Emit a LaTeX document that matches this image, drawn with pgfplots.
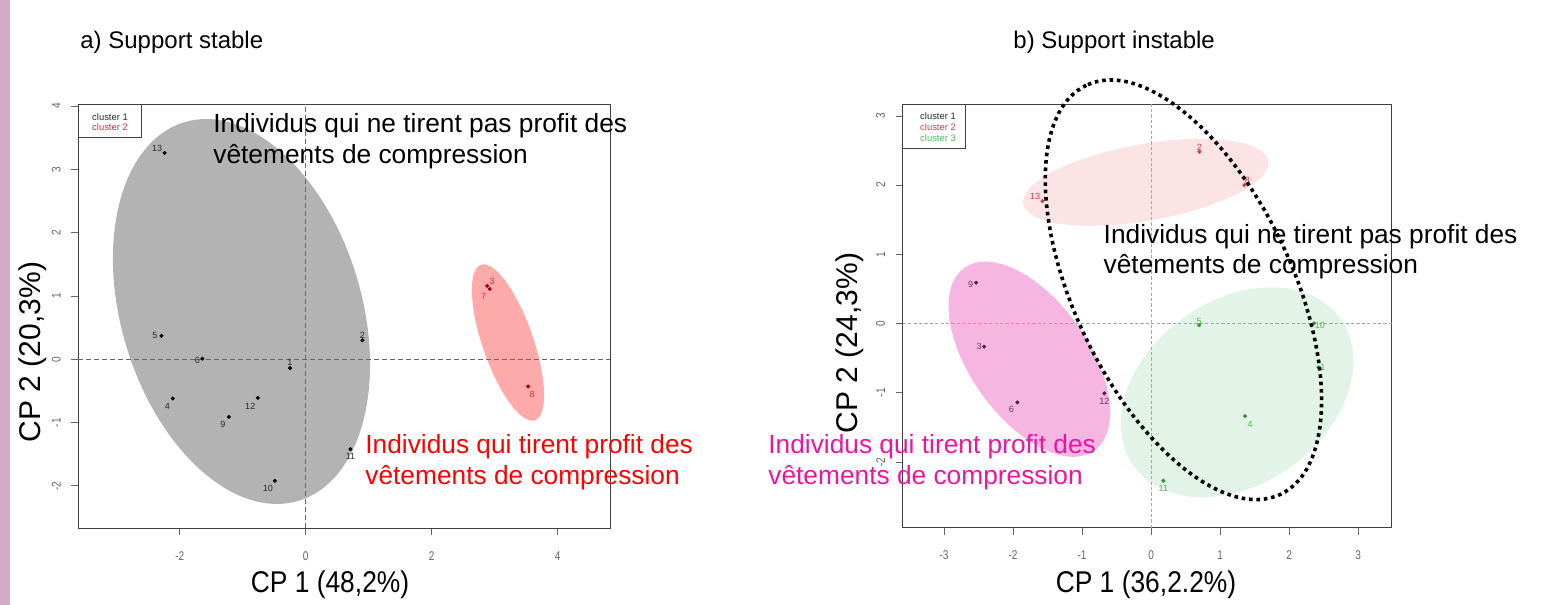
\documentclass[border=0pt]{standalone}
\usepackage{fontspec}
\setmainfont{Liberation Sans}
\usepackage{pgfplots}
\pgfplotsset{compat=1.18}
\usepackage{pgfplotstable}
\definecolor{stripc}{RGB}{212,170,200}
\definecolor{grayell}{RGB}{179,179,179}
\definecolor{redell}{RGB}{255,170,170}
\definecolor{pinkell}{RGB}{247,182,226}
\definecolor{lredell}{RGB}{252,228,228}
\definecolor{greenell}{RGB}{226,244,232}
\definecolor{magtext}{RGB}{238,20,160}
\definecolor{ticklab}{RGB}{100,100,100}
\definecolor{cA}{RGB}{40,40,40}
\definecolor{cB}{RGB}{208,50,60}
\definecolor{cBd}{RGB}{170,0,0}
\definecolor{rA}{RGB}{110,50,95}
\definecolor{rB}{RGB}{205,60,85}
\definecolor{rC}{RGB}{80,185,80}
\definecolor{rCd}{RGB}{50,150,50}
\newcommand\ptfont{\fontsize{4.5}{5}\selectfont}
\newcommand\ticfont{\fontsize{6.3}{7}\selectfont}
\newcommand\annfont{\fontsize{13.15}{15.5}\selectfont}
\newcommand\legfont{\fontsize{4.7}{5}\selectfont}

% left panel: cluster 1
\pgfplotstableread{
x y lab dx dy
-2.24 3.26 13 -3.7 2.2
-2.29 0.37 5 -3.3 0
-1.64 0.01 6 -2.5 -0.8
-0.25 -0.14 1 0 2.8
0.90 0.30 2 0 2.5
-2.11 -0.62 4 -2.7 -3.9
-0.76 -0.61 12 -3.8 -4
-1.22 -0.91 9 -3 -3.7
0.71 -1.42 11 0 -3.7
-0.49 -1.92 10 -3.5 -3.8
}\leftA
% left panel: cluster 2
\pgfplotstableread{
x y lab dx dy
2.88 1.16 3 2.5 2
2.92 1.11 7 -3 -3.7
3.53 -0.43 8 2 -3.8
}\leftB
% right panel: cluster 1
\pgfplotstableread{
x y lab dx dy
-2.536 0.590 9 -2.7 -0.7
-2.420 -0.335 3 -2.5 0
-1.938 -1.139 6 -3 -3.5
-0.677 -1.009 12 0 -4
}\rightA
% right panel: cluster 2
\pgfplotstableread{
x y lab dx dy
-1.575 1.770 13 -3.65 2.2
0.700 2.483 2 0 2.2
1.352 2.001 8 1.5 2.5
}\rightB
% right panel: cluster 3
\pgfplotstableread{
x y lab dx dy
0.696 -0.022 5 0 2
2.362 0.003 10 2.9 -0.8
2.425 -0.633 1 2.2 0
1.362 -1.337 4 2.5 -4
0.178 -2.272 11 0 -3.8
}\rightC

\pgfplotsset{
  rstyle/.style={
    anchor=south west, clip=false,
    tick pos=left, tick align=outside, major tick length=3.5pt,
    tick style={ticklab, line width=0.4pt},
    axis line style={draw=black!75, line width=0.5pt},
    /pgf/number format/assume math mode=true,
    xticklabel style={font=\ticfont, text=ticklab, xscale=0.8, yshift=-4.5pt},
    yticklabel style={font=\ticfont, text=ticklab, rotate=90, anchor=south, xscale=0.8, yshift=1.8pt},
  },
  ptlab/.style={only marks, mark=*, mark size=0.8pt,
    point meta=explicit symbolic, nodes near coords,
    visualization depends on={\thisrow{dx}\as\dx},
    visualization depends on={\thisrow{dy}\as\dy},
    nodes near coords style={anchor=center, inner sep=0pt, font=\ptfont,
      xshift=\dx pt, yshift=\dy pt},
  },
}

\begin{document}
\begin{tikzpicture}
\useasboundingbox (0,0) rectangle (772pt,302.5pt);
\fill[stripc] (0,0) rectangle (5pt,302.5pt);

% ---------------- left panel ----------------
\begin{axis}[rstyle, at={(39.15pt,38.35pt)},
  x=31.5pt, y=31.65pt, xmin=-3.61, xmax=4.83, ymin=-2.67, ymax=4.03,
  xtick={-2,0,2,4}, ytick={-2,-1,0,1,2,3,4}]
  \fill[grayell, rotate around={106.8:(axis cs:-1.02,0.755)}] (axis cs:-1.02,0.755) ellipse [x radius=98.85pt, y radius=60.15pt];
  \fill[redell, rotate around={109.1:(axis cs:3.21,0.265)}] (axis cs:3.21,0.265) ellipse [x radius=41.15pt, y radius=12.7pt];
  \draw[black!60, dash pattern=on 2.5pt off 1.5pt, line width=0.5pt] (axis cs:0,-2.67) -- (axis cs:0,4.03);
  \draw[black!60, dash pattern=on 2.5pt off 1.5pt, line width=0.5pt] (axis cs:-3.61,0) -- (axis cs:4.83,0);
  \addplot[ptlab, black, nodes near coords style={text=cA}] table[meta=lab] {\leftA};
  \addplot[ptlab, cBd, nodes near coords style={text=cB}] table[meta=lab] {\leftB};
\end{axis}

% ---------------- right panel ----------------
\begin{axis}[rstyle, at={(451.35pt,38.5pt)},
  x=34.5pt, y=34.6pt, xmin=-3.6, xmax=3.49, ymin=-2.955, ymax=3.17,
  xtick={-3,-2,-1,0,1,2,3}, ytick={-2,-1,0,1,2,3}]
  \fill[pinkell, rotate around={125.4:(axis cs:-1.765,-0.516)}] (axis cs:-1.765,-0.516) ellipse [x radius=56.05pt, y radius=29.5pt];
  \fill[lredell, rotate around={10:(axis cs:-0.077,2.04)}] (axis cs:-0.077,2.04) ellipse [x radius=62.2pt, y radius=19.15pt];
  \fill[greenell, rotate around={35.5:(axis cs:1.246,-0.994)}] (axis cs:1.246,-0.994) ellipse [x radius=63.45pt, y radius=45.95pt];
  \draw[black!35, dash pattern=on 1.6pt off 1.1pt, line width=0.5pt] (axis cs:0,-2.955) -- (axis cs:0,3.17);
  \draw[black!35, dash pattern=on 1.6pt off 1.1pt, line width=0.5pt] (axis cs:-3.6,0) -- (axis cs:3.49,0);
  \addplot[ptlab, rA!70!black, nodes near coords style={text=rA}] table[meta=lab] {\rightA};
  \addplot[ptlab, rB, nodes near coords style={text=rB}] table[meta=lab] {\rightB};
  \addplot[ptlab, rCd, nodes near coords style={text=rC}] table[meta=lab] {\rightC};
  \coordinate (dc) at (axis cs:0.468,0.488);
\end{axis}

% legends
\draw[black!75, line width=0.4pt, fill=white] (39.15pt,250.35pt) rectangle (70.5pt,234pt);
\node[font=\legfont, text=cA, inner sep=0pt] at (55pt,244pt) {cluster 1};
\node[font=\legfont, text=cB, inner sep=0pt] at (55pt,238.75pt) {cluster 2};
\draw[black!75, line width=0.4pt, fill=white] (451.35pt,250.5pt) rectangle (482.5pt,228.35pt);
\node[font=\legfont, text=cA, inner sep=0pt] at (469pt,244.65pt) {cluster 1};
\node[font=\legfont, text=rB, inner sep=0pt] at (469pt,239.15pt) {cluster 2};
\node[font=\legfont, text=rC, inner sep=0pt] at (469pt,233.35pt) {cluster 3};

% titles
\node[anchor=base west, inner sep=0pt, font=\fontsize{12}{14}\selectfont] at (40pt,278pt) {a) Support stable};
\node[anchor=base west, inner sep=0pt, font=\fontsize{12}{14}\selectfont] at (506.5pt,278pt) {b) Support instable};

% axis labels
\node[inner sep=0pt, font=\fontsize{15}{17}\selectfont, xscale=0.88] at (165pt,10pt) {CP 1 (48,2\%)};
\node[inner sep=0pt, font=\fontsize{15}{17}\selectfont, xscale=0.88] at (573pt,10pt) {CP 1 (36,2.2\%)};
\node[inner sep=0pt, font=\fontsize{15}{17}\selectfont, rotate=90] at (16.5pt,126.5pt) {CP 2 (20,3\%)};
\node[inner sep=0pt, font=\fontsize{15}{17}\selectfont, rotate=90] at (425pt,131pt) {CP 2 (24,3\%)};

% annotations
\node[anchor=base west, inner sep=0pt, font=\annfont] at (106.5pt,236.15pt) {Individus qui ne tirent pas profit des};
\node[anchor=base west, inner sep=0pt, font=\annfont] at (106.5pt,220.5pt) {vêtements de compression};
\node[anchor=base west, inner sep=0pt, font=\annfont, text=red] at (182.5pt,75.5pt) {Individus qui tirent profit des};
\node[anchor=base west, inner sep=0pt, font=\annfont, text=red] at (182.5pt,60pt) {vêtements de compression};
\node[anchor=base west, inner sep=0pt, font=\annfont] at (551.65pt,180.85pt) {Individus qui ne tirent pas profit des};
\node[anchor=base west, inner sep=0pt, font=\annfont] at (551.65pt,165.85pt) {vêtements de compression};
\node[anchor=base west, inner sep=0pt, font=\annfont, text=magtext] at (384pt,75.85pt) {Individus qui tirent profit des};
\node[anchor=base west, inner sep=0pt, font=\annfont, text=magtext] at (384pt,60pt) {vêtements de compression};

% dotted ellipse
\draw[black, line width=1.8pt, dash pattern=on 1.8pt off 1.9pt, rotate around={115.4:(dc)}] (dc) ellipse [x radius=113.2pt, y radius=54.4pt];
\end{tikzpicture}
\end{document}
